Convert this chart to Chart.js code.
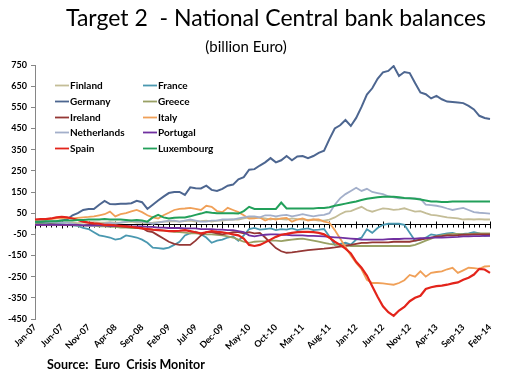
<!DOCTYPE html>
<html>
<head>
<meta charset="utf-8">
<title>Target 2 - National Central bank balances</title>
<script src="https://cdn.jsdelivr.net/npm/chart.js@4.4.1/dist/chart.umd.min.js"></script>
<style>
    body { margin: 0; background: #fff; }
    #wrap { position: relative; width: 505px; height: 375px; background: #fff; font-family: Lato, "Open Sans", sans-serif; }
    #wrap canvas { position: absolute; left: 0; top: 0; }
    .title { position: absolute; left: 276px; top: 3px; transform: translateX(-50%); font-size: 23px; white-space: pre; color: #000; }
    .subtitle { position: absolute; left: 246px; top: 37px; transform: translateX(-50%); font-size: 15px; white-space: pre; color: #000; }
    .source { position: absolute; left: 47px; top: 357px; font-size: 12.5px; font-weight: bold; white-space: pre; color: #000; }
</style>
</head>
<body>
<div id="wrap">
    <canvas id="t2Chart" width="505" height="375"></canvas>
    <div class="title">Target 2  - National Central bank balances</div>
    <div class="subtitle">(billion Euro)</div>
    <div class="source">Source:  Euro  Crisis Monitor</div>
</div>
<script>
// monthly balances, Jan-07 .. Feb-14 (billion Euro)
const MONTHS = ['Jan', 'Feb', 'Mar', 'Apr', 'May', 'Jun', 'Jul', 'Aug', 'Sep', 'Oct', 'Nov', 'Dec'];
const YEARS = ['07', '08', '09', '10', '11', '12', '13', '14'];
const Y_MIN = -450;
const Y_MAX = 750;
const Y_STEP = 100;

const finland = [
    0, 2, 3, 5, 5, 3, 5, 5, 3, 5,
    5, 8, 5, 5, 8, 5, 5, 8, 10, 5,
    5, 3, 5, 8, 10, 10, 12, 10, 12, 15,
    10, 12, 15, 10, 15, 15, 18, 20, 20, 25,
    30, 30, 28, 25, 20, 25, 22, 20, 25, 22,
    20, 18, 20, 15, 15, 20, 30, 45, 57, 60,
    70, 80, 65, 57, 65, 73, 70, 66, 68, 73,
    65, 57, 60, 50, 42, 40, 35, 30, 28, 25,
    20, 22, 20, 22, 20, 20
];
const france = [
    0, 2, 3, 2, 0, -2, -5, -8, -10, -20,
    -25, -40, -55, -60, -65, -75, -70, -55, -60, -65,
    -75, -90, -113, -115, -118, -113, -100, -85, -55, -45,
    -38, -50, -65, -90, -80, -75, -65, -60, -80, -55,
    -25, -20, -28, -25, -22, -30, -25, -28, -22, -30,
    -25, -22, -30, -28, -25, -60, -99, -95, -90, -99,
    -75, -66, -26, -43, -20, -5, 0, 0, 0, -5,
    -43, -80, -75, -66, -50, -55, -50, -45, -43, -50,
    -48, -45, -40, -45, -57, -55
];
const germany = [
    5, 5, 8, 10, 12, 15, 20, 40, 50, 65,
    70, 70, 90, 108, 93, 92, 95, 94, 97, 108,
    102, 70, 90, 110, 128, 145, 150, 150, 136, 172,
    168, 167, 180, 160, 155, 165, 180, 185, 210, 220,
    255, 258, 275, 290, 310, 290, 300, 320, 300, 318,
    320, 310, 320, 335, 345, 400, 450, 465, 490, 462,
    500, 552, 610, 640, 685, 715, 722, 745, 698, 717,
    712, 665, 620, 612, 592, 604, 588, 577, 575, 573,
    570, 557, 540, 510, 500, 495
];
const greece = [
    -2, -3, -3, -5, -5, -5, -5, -5, -8, -8,
    -10, -10, -12, -12, -15, -15, -18, -18, -20, -20,
    -22, -25, -28, -30, -32, -35, -38, -40, -42, -45,
    -45, -48, -50, -50, -52, -55, -60, -65, -75, -85,
    -90, -85, -83, -82, -80, -80, -82, -78, -75, -72,
    -70, -75, -80, -85, -90, -95, -99, -100, -102, -105,
    -105, -105, -105, -105, -105, -105, -105, -105, -105, -105,
    -105, -100, -90, -80, -70, -60, -55, -50, -48, -48,
    -50, -48, -47, -45, -45, -45
];
const ireland = [
    -5, -5, -5, -3, -3, -5, -5, -3, -5, -8,
    -5, -5, -5, -8, -10, -10, -12, -15, -15, -18,
    -20, -35, -40, -55, -70, -85, -95, -100, -100, -100,
    -80, -55, -40, -40, -45, -50, -45, -40, -40, -45,
    -40, -45, -43, -65, -90, -115, -130, -137, -135, -132,
    -128, -125, -122, -120, -118, -115, -112, -108, -104, -100,
    -95, -90, -90, -88, -88, -88, -88, -85, -85, -85,
    -85, -80, -75, -70, -65, -60, -58, -55, -55, -54,
    -52, -52, -50, -50, -50, -50
];
const italy = [
    15, 18, 20, 22, 25, 25, 28, 25, 28, 30,
    32, 35, 40, 45, 57, 35, 45, 50, 58, 65,
    55, 40, 30, 25, 40, 52, 65, 70, 72, 75,
    70, 65, 85, 80, 60, 55, 75, 65, 55, 40,
    24, 25, 30, 15, 25, 20, 25, 28, 10, 20,
    25, 15, 20, 20, 10, 5, -30, -70, -110, -150,
    -185, -215, -265, -280, -280, -282, -285, -288, -280, -267,
    -242, -250, -225, -250, -232, -228, -225, -215, -208, -232,
    -220, -208, -210, -213, -202, -200
];
const netherlands = [
    10, 12, 10, 8, 5, 5, 5, 0, -5, -5,
    -10, -10, -5, 0, 5, 0, 5, 10, 15, 10,
    10, 5, 0, 5, 10, 15, 15, 10, 15, 20,
    15, 10, 10, 15, 15, 20, 20, 20, 25, 30,
    35, 35, 30, 40, 40, 35, 40, 42, 35, 40,
    45, 40, 35, 40, 42, 50, 90, 120, 140, 155,
    170, 155, 165, 150, 145, 140, 130, 125, 120, 120,
    120, 120, 118, 90, 88, 85, 80, 72, 65, 70,
    75, 65, 55, 52, 50, 48
];
const portugal = [
    -5, -5, -5, -5, -5, -5, -5, -5, -5, -8,
    -8, -8, -8, -8, -10, -10, -10, -10, -12, -12,
    -12, -15, -15, -18, -18, -20, -20, -20, -22, -22,
    -22, -25, -25, -25, -28, -28, -30, -30, -35, -40,
    -55, -60, -55, -52, -50, -50, -52, -52, -55, -55,
    -55, -57, -57, -58, -60, -62, -64, -66, -68, -70,
    -72, -75, -75, -75, -75, -75, -73, -72, -72, -70,
    -70, -70, -68, -68, -66, -66, -65, -64, -63, -62,
    -60, -60, -58, -58, -57, -57
];
const spain = [
    20, 22, 22, 25, 30, 33, 30, 25, 18, 10,
    5, 2, 0, -5, -5, -8, -10, -12, -15, -18,
    -22, -25, -28, -30, -32, -35, -35, -33, -30, -35,
    -40, -45, -40, -35, -38, -40, -45, -50, -55, -70,
    -100, -105, -100, -88, -75, -62, -52, -48, -43, -40,
    -38, -38, -40, -43, -50, -66, -85, -100, -118, -140,
    -180, -208, -245, -295, -345, -390, -418, -435, -410, -393,
    -366, -350, -340, -308, -300, -295, -292, -288, -282, -277,
    -265, -255, -240, -213, -216, -232
];
const luxembourg = [
    10, 10, 12, 12, 12, 15, 15, 15, 18, 18,
    20, 20, 20, 22, 20, 20, 20, 18, 15, 18,
    15, 10, 30, 42, 30, 25, 28, 30, 30, 35,
    42, 48, 55, 52, 50, 50, 50, 50, 48, 60,
    80, 70, 70, 70, 70, 70, 100, 72, 72, 72,
    72, 72, 72, 75, 75, 78, 85, 90, 95, 100,
    105, 112, 118, 122, 125, 128, 128, 128, 125, 122,
    120, 118, 115, 110, 105, 105, 103, 103, 105, 105,
    105, 105, 105, 105, 105, 105
];

const SERIES = [
    ['Finland', finland, '#c4bd97', 1.8],
    ['France', france, '#4a98b0', 1.8],
    ['Germany', germany, '#4d6690', 2],
    ['Greece', greece, '#99a064', 1.8],
    ['Ireland', ireland, '#953735', 1.8],
    ['Italy', italy, '#f0a058', 1.8],
    ['Netherlands', netherlands, '#a3afca', 1.8],
    ['Portugal', portugal, '#7030a0', 1.8],
    ['Spain', spain, '#e3241b', 2.2],
    ['Luxembourg', luxembourg, '#22a05a', 2]
];

(function () {
    'use strict';

    const FONT = 'Lato, "Open Sans", sans-serif';

    function buildLabels()
    {
        const labels = [];
        YEARS.forEach(function (yy) {
            MONTHS.forEach(function (m) {
                if (labels.length < finland.length) {
                    labels.push(m + '-' + yy);
                }
            });
        });
        return labels;
    }

    // black axis line at zero with monthly tick marks
    const zeroAxisPlugin = {
        id: 'zeroAxis',
        beforeDatasetsDraw(chart) {
            const ctx = chart.ctx;
            const x = chart.scales.x;
            const y0 = Math.round(chart.scales.y.getPixelForValue(0)) + 0.5;
            ctx.save();
            ctx.strokeStyle = '#000';
            ctx.lineWidth = 1;
            ctx.beginPath();
            ctx.moveTo(chart.chartArea.left, y0);
            ctx.lineTo(chart.chartArea.right, y0);
            for (let i = 0; i < chart.data.labels.length; i++) {
                const px = Math.round(x.getPixelForValue(i)) + 0.5;
                if (i % 5 === 0) {
                    ctx.moveTo(px, y0 - 3);
                    ctx.lineTo(px, y0 + 4);
                } else {
                    ctx.moveTo(px, y0);
                    ctx.lineTo(px, y0 + 3);
                }
            }
            ctx.stroke();
            ctx.restore();
        }
    };

    // two-column legend inside the plot area
    const insideLegendPlugin = {
        id: 'insideLegend',
        afterDraw(chart) {
            const ctx = chart.ctx;
            const area = chart.chartArea;
            ctx.save();
            ctx.font = 'bold 10px ' + FONT;
            ctx.textBaseline = 'middle';
            chart.data.datasets.forEach(function (ds, i) {
                const col = i % 2;
                const row = Math.floor(i / 2);
                const lx = area.left + (col ? 108 : 20);
                const ly = Math.round(area.top + 20 + row * 15.8) + 0.5;
                ctx.strokeStyle = ds.borderColor;
                ctx.lineWidth = 1.8;
                ctx.beginPath();
                ctx.moveTo(lx, ly);
                ctx.lineTo(lx + 14, ly);
                ctx.stroke();
                ctx.fillStyle = '#000';
                ctx.fillText(ds.label, lx + 15, ly);
            });
            ctx.restore();
        }
    };

    document.addEventListener('DOMContentLoaded', function () {
        const canvas = document.getElementById('t2Chart');
        if (!canvas) {
            return;
        }

        const datasets = SERIES.map(function (s, i) {
            return {
                label: s[0],
                data: s[1],
                borderColor: s[2],
                backgroundColor: s[2],
                borderWidth: s[3],
                pointRadius: 0,
                tension: 0,
                fill: false,
                order: SERIES.length - i
            };
        });

        new Chart(canvas.getContext('2d'), {
            type: 'line',
            data: { labels: buildLabels(), datasets: datasets },
            options: {
                responsive: false,
                animation: false,
                layout: { padding: { left: 0, top: 65, right: 15, bottom: 0 } },
                plugins: {
                    legend: { display: false },
                    title: { display: false },
                    tooltip: { enabled: false }
                },
                scales: {
                    x: {
                        type: 'category',
                        offset: false,
                        grid: { display: false, drawTicks: false },
                        border: { display: false },
                        ticks: {
                            autoSkip: false,
                            maxRotation: 45,
                            minRotation: 45,
                            padding: 3,
                            color: '#000',
                            font: { family: FONT, size: 9, weight: 'bold' },
                            callback: function (value, index) {
                                return index % 5 === 0 ? this.getLabelForValue(value) : null;
                            }
                        },
                        afterFit: function (scale) {
                            scale.height = 56;
                        }
                    },
                    y: {
                        min: Y_MIN,
                        max: Y_MAX,
                        grid: { drawOnChartArea: false, tickLength: 4, color: '#868686' },
                        border: { color: '#868686' },
                        ticks: {
                            stepSize: Y_STEP,
                            padding: 4,
                            color: '#000',
                            font: { family: FONT, size: 9, weight: 'bold' }
                        },
                        afterFit: function (scale) {
                            scale.width = 35;
                        }
                    }
                }
            },
            plugins: [zeroAxisPlugin, insideLegendPlugin]
        });
    });

})();
</script>
</body>
</html>
